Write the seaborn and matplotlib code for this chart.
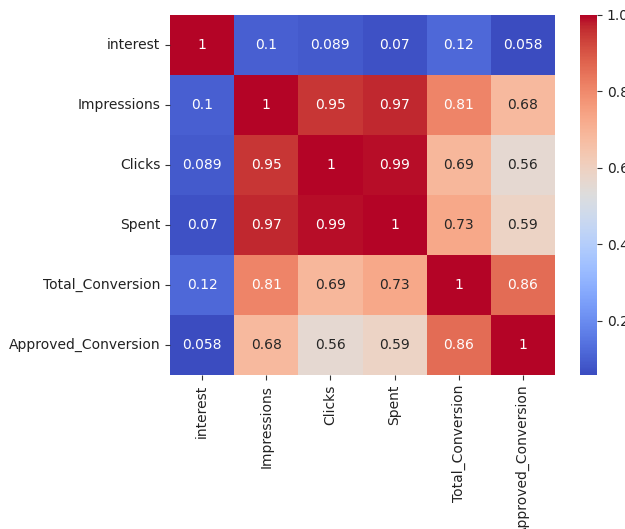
import numpy as np
import pandas as pd
import matplotlib
matplotlib.use("Agg")
import matplotlib.pyplot as plt
import seaborn as sns

labels = ["interest", "Impressions", "Clicks", "Spent", "Total_Conversion", "Approved_Conversion"]
row_interest = [1.0, 0.1, 0.089, 0.07, 0.12, 0.058]
row_impressions = [0.1, 1.0, 0.95, 0.97, 0.81, 0.68]
row_clicks = [0.089, 0.95, 1.0, 0.99, 0.69, 0.56]
row_spent = [0.07, 0.97, 0.99, 1.0, 0.73, 0.59]
row_total = [0.12, 0.81, 0.69, 0.73, 1.0, 0.86]
row_approved = [0.058, 0.68, 0.56, 0.59, 0.86, 1.0]

corr = pd.DataFrame([row_interest, row_impressions, row_clicks, row_spent, row_total, row_approved],
                    index=labels, columns=labels)

W, H = 625, 529
fig = plt.figure(figsize=(W / 100, H / 100), dpi=100)
ax = fig.add_axes([170 / W, 1 - 375 / H, 385 / W, 360 / H])
cax = fig.add_axes([580 / W, 1 - 375 / H, 17 / W, 360 / H])

sns.heatmap(corr, annot=True, cmap="coolwarm", ax=ax, cbar_ax=cax,
            annot_kws={"fontsize": 10})
ax.tick_params(labelsize=10, colors="#333333", labelcolor="#222222")
cax.tick_params(labelsize=10, colors="#333333", labelcolor="#222222")
plt.setp(ax.get_xticklabels(), rotation=90)
plt.setp(ax.get_yticklabels(), rotation=0)

fig.savefig("out.png", dpi=100)
